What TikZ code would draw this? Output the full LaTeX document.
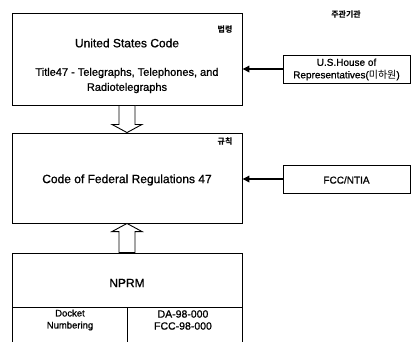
\documentclass[tikz,border=0pt]{standalone}
\usepackage{fontspec}
\setmainfont{Liberation Sans}[FakeBold=0.9]
\newfontfamily\kr{Noto Sans CJK KR}
\usetikzlibrary{calc,arrows.meta}
\begin{document}
\begin{tikzpicture}[x=1pt,y=-1pt,
  box/.style={draw,line width=0.9pt,inner sep=0pt},
  bigbox/.style={box,minimum width=230pt},
  srcbox/.style={box,minimum width=127pt,minimum height=28pt},
  txt/.style={inner sep=0pt,align=center},
  big/.style={txt,font=\fontsize{12}{15}\selectfont},
  mid/.style={txt,font=\fontsize{11}{15}\selectfont},
  small/.style={txt,font=\fontsize{10}{12.5}\selectfont},
  krs/.style={txt,font=\kr\bfseries\fontsize{8}{10}\selectfont},
  conn/.style={line width=1.6pt,-{Triangle[length=7pt,width=6.5pt]}},
  hollow/.style={draw,fill=white,line width=0.9pt,line join=miter}]
\useasboundingbox (0,0) rectangle (412,341);
% boxes
\node[bigbox,minimum height=92pt] (us) at (127,59) {};
\node[bigbox,minimum height=90pt] (cfr) at (127,178) {};
\node[bigbox,minimum height=54pt] (nprm) at (127,280) {};
\node[box,minimum width=115pt,minimum height=40pt] (dock) at (69.5,327) {};
\node[box,minimum width=115pt,minimum height=40pt] (num) at (184.5,327) {};
\node[srcbox] (house) at (346.5,69) {};
\node[srcbox] (fcc) at (346.5,179) {};
% texts
\node[krs] (hdr) at (346,15) {주관기관};
\node[krs] (law) at (225,30) {법령};
\node[krs] (rule) at (225,141) {규칙};
\node[big] (usc) at (127,43) {United States Code};
\node[mid] (title) at (127,80.5) {Title47 - Telegraphs, Telephones, and\\Radiotelegraphs};
\node[big] (cfrt) at (127,180) {Code of Federal Regulations 47};
\node[big] (nprmt) at (127,283) {NPRM};
\node[txt,font=\fontsize{9.5}{12}\selectfont] (dockt) at (70,320) {Docket\\Numbering};
\node[small,font=\fontsize{10.5}{12}\selectfont] (numt) at (183,320) {DA-98-000\\FCC-98-000};
\node[small] (houset) at (346.5,69.5) {U.S.House of\\Representatives({\kr 미하원})};
\node[small] (fcct) at (346.5,180) {FCC/NTIA};
% connectors
\draw[conn] (house.west) -- (house.west -| us.east);
\draw[conn] (fcc.west) -- (fcc.west -| cfr.east);
\draw[hollow] ($(us.south)+(-8,0)$) -- ++(0,19) -- ++(-7,0) -- (cfr.north)
  -- ($(us.south)+(15,19)$) -- ++(-7,0) -- ($(us.south)+(8,0)$) -- cycle;
\draw[hollow] ($(nprm.north)+(-8,0)$) -- ++(0,-21) -- ++(-7,0) -- (cfr.south)
  -- ($(nprm.north)+(15,-21)$) -- ++(-7,0) -- ($(nprm.north)+(8,0)$) -- cycle;
\end{tikzpicture}
\end{document}
